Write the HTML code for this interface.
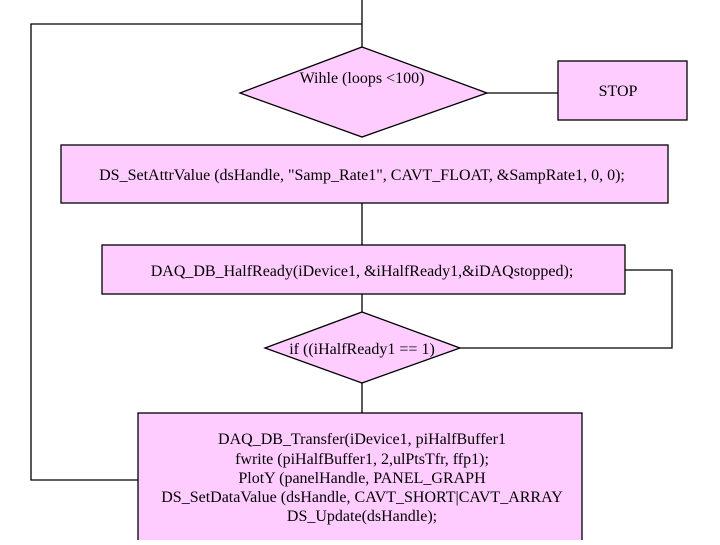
<!DOCTYPE html>
<html><head><style>
body{margin:0;background:#fff;}
svg text{font-family:"Liberation Serif",serif;font-size:16px;fill:#000;}
</style></head><body>
<svg width="720" height="540" xmlns="http://www.w3.org/2000/svg">
<g stroke="#000" stroke-width="1.3" fill="none">
<polyline points="362,0 362,58"/>
<polyline points="362,24 31,24 31,480 138,480"/>
<line x1="487" y1="93" x2="558" y2="93"/>
<line x1="362" y1="203" x2="362" y2="245"/>
<line x1="362" y1="294" x2="362" y2="312"/>
<polyline points="460,348 672,348 672,270 625,270"/>
<line x1="362" y1="383" x2="362" y2="413"/>
</g>
<g stroke="#000" stroke-width="1.3" fill="#ffccff">
<polygon points="362,47 487,93 362,137 240,93"/>
<rect x="558" y="61" width="129" height="59"/>
<rect x="61" y="145" width="607" height="58"/>
<rect x="102" y="245" width="523" height="49"/>
<polygon points="362,312 460,348 362,383 265,348"/>
<rect x="138" y="413" width="444" height="140"/>
</g>
<text x="362" y="83" text-anchor="middle">Wihle (loops &lt;100)</text>
<text x="618" y="96" text-anchor="middle">STOP</text>
<text x="362" y="180" text-anchor="middle">DS_SetAttrValue (dsHandle, "Samp_Rate1", CAVT_FLOAT, &amp;SampRate1, 0, 0);</text>
<text x="362" y="276" text-anchor="middle">DAQ_DB_HalfReady(iDevice1, &amp;iHalfReady1,&amp;iDAQstopped);</text>
<text x="362" y="354" text-anchor="middle">if ((iHalfReady1 == 1)</text>
<text x="362" y="444" text-anchor="middle">DAQ_DB_Transfer(iDevice1, piHalfBuffer1</text>
<text x="362" y="464" text-anchor="middle">fwrite (piHalfBuffer1, 2,ulPtsTfr, ffp1);</text>
<text x="362" y="483" text-anchor="middle">PlotY (panelHandle, PANEL_GRAPH</text>
<text x="362" y="502" text-anchor="middle">DS_SetDataValue (dsHandle, CAVT_SHORT|CAVT_ARRAY</text>
<text x="362" y="521" text-anchor="middle">DS_Update(dsHandle);</text>
</svg>
</body></html>
